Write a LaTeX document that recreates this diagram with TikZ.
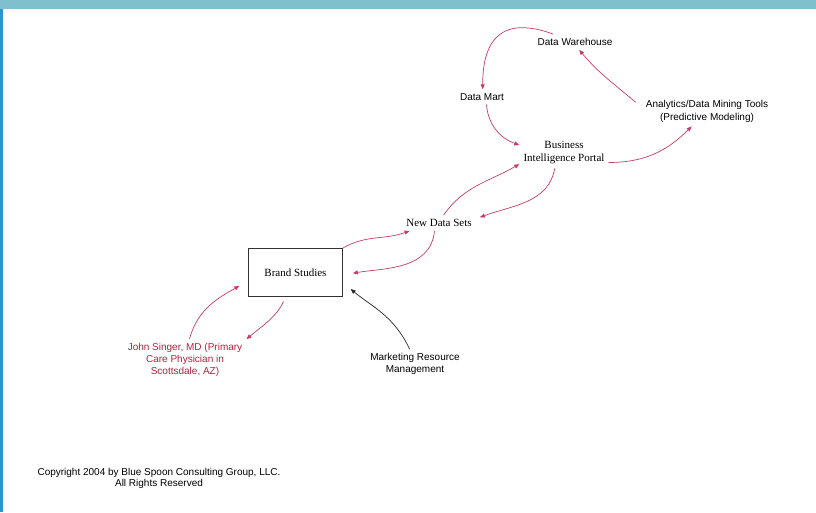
\documentclass[tikz,border=0pt]{standalone}
\usepackage{fontspec}
\setmainfont{Liberation Serif}
\newfontfamily\arialfont{Liberation Sans}
\usepackage{xcolor}
\usepackage{tikz}
\usetikzlibrary{arrows.meta}

\definecolor{flowpink}{RGB}{200,60,100}
\definecolor{namered}{RGB}{185,30,60}
\definecolor{bandteal}{RGB}{128,192,206}
\definecolor{edgeblue}{RGB}{40,150,210}

\begin{document}
\begin{tikzpicture}[
    x=1pt, y=1pt,
    sanslabel/.style={font=\arialfont\fontsize{10}{12}\selectfont, align=center, inner sep=4pt},
    seriflabel/.style={font=\fontsize{11}{13}\selectfont, align=center, inner sep=4pt},
    study/.style={rectangle, draw=black!80, line width=1pt, minimum width=94pt, minimum height=48pt, font=\fontsize{11}{13}\selectfont},
    flow/.style={draw=flowpink, line width=0.7pt, -{Triangle[length=5pt,width=4pt]}},
    boxflow/.style={flow, shorten >=10pt},
]

    % Frame
    \useasboundingbox (0,0) rectangle (816,512);
    \fill[bandteal] (0,503) rectangle (816,512);
    \fill[edgeblue] (0,0) rectangle (2.5,503);

    % Sources and tools
    \node[sanslabel] (dw) at (575,470) {Data Warehouse};
    \node[sanslabel] (dm) at (482,415) {Data Mart};
    \node[sanslabel, font=\arialfont\fontsize{10}{13}\selectfont, inner xsep=10pt] (an) at (707,401) {Analytics/Data Mining Tools\\(Predictive Modeling)};
    \node[seriflabel] (bi) at (564,359) {Business\\Intelligence Portal};
    \node[seriflabel, inner xsep=8pt] (nd) at (439,289) {New Data Sets};

    % Study and people
    \node[study] (bs) at (295.5,239.5) {Brand Studies};
    \node[sanslabel, text=namered] (js) at (185,152) {John Singer, MD (Primary\\Care Physician in\\Scottsdale, AZ)};
    \node[sanslabel] (mr) at (415,148) {Marketing Resource\\Management};

    % Copyright
    \node[sanslabel, font=\arialfont\fontsize{10}{11.5}\selectfont] (cp) at (159,33.5) {Copyright 2004 by Blue Spoon Consulting Group, LLC.\\All Rights Reserved};

    % Flows
    \draw[flow] (dw.160) to[out=160, in=90, looseness=1.5] (dm.85);
    \draw[flow] (an.173) to[out=140, in=-50] (dw.-62);
    \draw[flow] (dm.-60) to[out=-85, in=160] (bi.170);
    \draw[flow] (bi.-12) to[out=0, in=-135] (an.225);
    \draw[flow] (nd.60) to[out=55, in=210] (bi.194);
    \draw[flow] (bi.-121) to[out=-100, in=20] (nd.8);
    \draw[flow] (bs.north east) to[out=30, in=200] (nd.195);
    \draw[boxflow] (nd.-120) to[out=-95, in=10] (bs.-3);
    \draw[boxflow] (js.78) to[out=75, in=210] (bs.190);
    \draw[flow, shorten <=5pt] (bs.248) to[out=-115, in=40] (js.north east);
    \draw[boxflow, draw=black!85] (mr.110) to[out=115, in=-40] (bs.-12);

\end{tikzpicture}
\end{document}
